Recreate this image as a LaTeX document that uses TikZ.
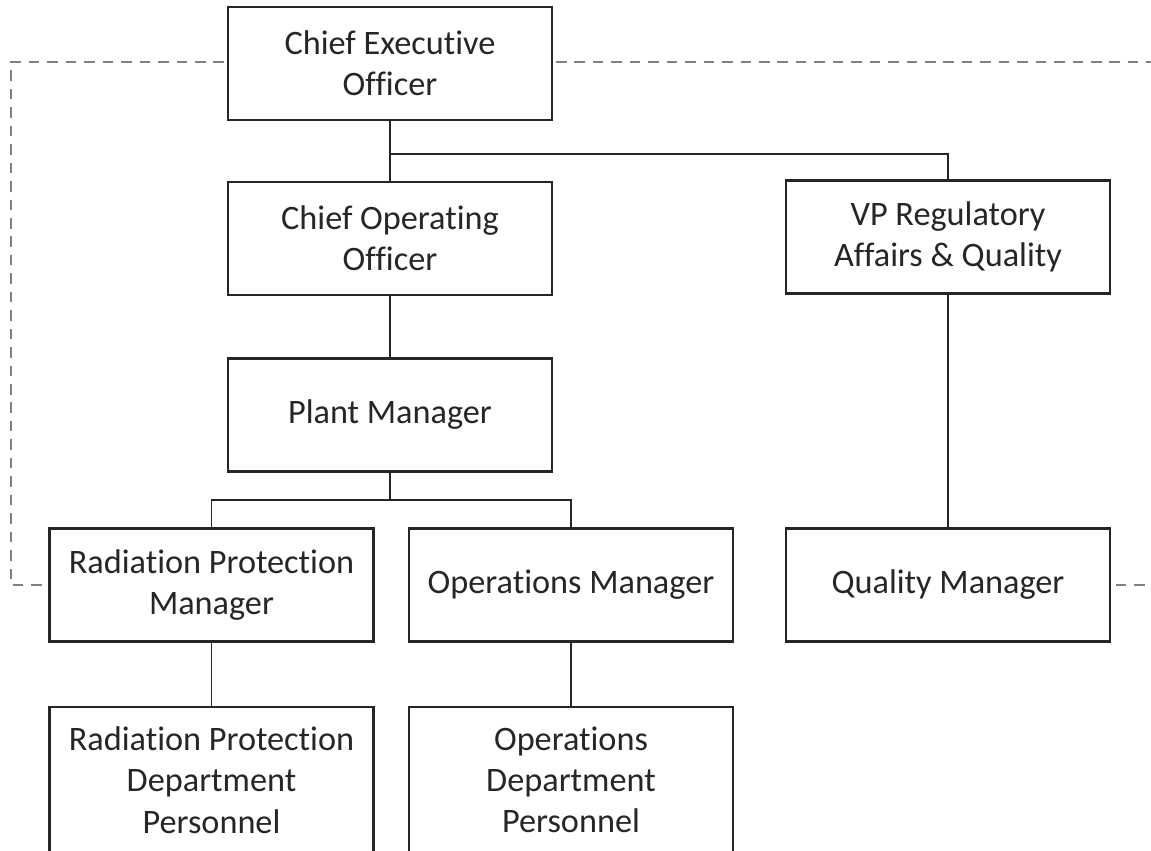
\documentclass[tikz,border=0pt]{standalone}
\usepackage{fontspec}
\setmainfont[Ligatures=NoCommon]{Carlito}
\usepackage{xcolor}
\usepackage{tikz}
\usetikzlibrary{calc,positioning}
\definecolor{dashgray}{RGB}{128,128,128}
\tikzset{
  orgbox/.style={draw=black!85, line width=1.2pt, fill=white, align=center, text centered, minimum width=6.48cm, minimum height=2.26cm, inner sep=2pt, font=\fontsize{19.5}{23.5}\selectfont, text=black!85},
  tallbox/.style={orgbox, minimum height=2.92cm},
  link/.style={draw=black!85, line width=1pt},
  dashlink/.style={draw=dashgray, line width=1.1pt, dash pattern=on 6pt off 4.5pt}
}

\begin{document}
\begin{tikzpicture}[x=0.02cm, y=-0.02cm]
  \useasboundingbox (0,0) rectangle (1151,850);
  \clip (0,0) rectangle (1151,850);
  % dashed frame behind the boxes
  \coordinate (ll) at (11,62);
  \coordinate (rr) at (1170,62);
  \draw[dashlink] (390,62) -- (ll) -- (11,585) -- (211,585);
  \draw[dashlink] (390,62) -- (rr) -- (1170,585) -- (948,585);
  % boxes
  \node[orgbox] (ceo) at (390,63.5) {Chief Executive\\Officer};
  \node[orgbox] (coo) at (390,238.5) {Chief Operating\\Officer};
  \node[orgbox] (vp) at (948,237) {VP Regulatory\\Affairs \& Quality};
  \node[orgbox] (pm) at (390,415) {Plant Manager};
  \node[orgbox] (rpm) at (211.5,585) {Radiation Protection\\Manager};
  \node[orgbox] (om) at (571,585) {Operations Manager};
  \node[orgbox] (qm) at (948,585) {Quality Manager};
  \node[tallbox] (rpdp) at (211.5,780) {Radiation Protection\\Department\\Personnel};
  \node[tallbox] (odp) at (571,780) {Operations\\Department\\Personnel};
  % connectors
  \coordinate (ceobar) at (390,154);
  \coordinate (pmbar) at (390,500);
  \draw[link] (ceo.south) -- (coo.north);
  \draw[link] (ceobar) -| (vp.north);
  \draw[link] (vp.south) -- (qm.north);
  \draw[link] (coo.south) -- (pm.north);
  \draw[link] (pm.south) -- (pmbar);
  \draw[link] (pmbar) -| (rpm.north);
  \draw[link] (pmbar) -| (om.north);
  \draw[link] (rpm.south) -- (rpdp.north);
  \draw[link] (om.south) -- (odp.north);
\end{tikzpicture}
\end{document}
